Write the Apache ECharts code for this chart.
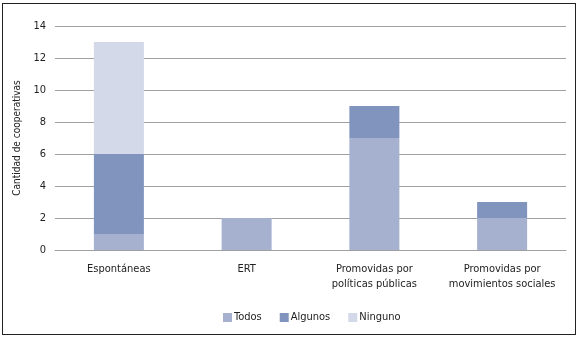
<!DOCTYPE html>
<html>
<head>
<meta charset="utf-8">
<script src="https://cdn.jsdelivr.net/npm/echarts@6/dist/echarts.min.js"></script>
<style>
  html, body { margin: 0; padding: 0; background: #fff; }
  #chart-container { position: absolute; left: 0; top: 0; width: 580px; height: 339px; }
  #frame { position: absolute; left: 2px; top: 3px; width: 572px; height: 330px; border: 1px solid #222; pointer-events: none; }
</style>
</head>
<body>
<div id="chart-container"></div>
<div id="frame"></div>
<script>
const categories = ['Espontáneas', 'ERT', 'Promovidas por\npolíticas públicas', 'Promovidas por\nmovimientos sociales'];
const todos = [1, 2, 7, 2];
const algunos = [5, 0, 2, 1];
const ninguno = [7, 0, 0, 0];
const yTicks = [0, 2, 4, 6, 8, 10, 12, 14];

const font = '"Liberation Sans Narrow", "DejaVu Sans Condensed", sans-serif';

const chartDom = document.getElementById('chart-container');
const myChart = echarts.init(chartDom);

function makeSeries(name, data, color) {
    return {
        name: name,
        type: 'bar',
        stack: 'total',
        barWidth: 50,
        data: data,
        itemStyle: {color: color},
        animation: false
    };
}

const option = {
    textStyle: {fontFamily: font},
    grid: {left: 55, right: 14, top: 26, bottom: 89},
    legend: {
        bottom: 11,
        left: 218,
        itemWidth: 9,
        itemHeight: 9,
        itemGap: 18,
        icon: 'rect',
        textStyle: {fontFamily: font, fontSize: 11, color: '#222', padding: [0, 0, 0, -3]},
        data: ['Todos', 'Algunos', 'Ninguno']
    },
    xAxis: {
        type: 'category',
        data: categories,
        axisLine: {lineStyle: {color: '#a0a0a0'}},
        axisTick: {show: false},
        axisLabel: {interval: 0, fontFamily: font, fontSize: 11, color: '#222', margin: 12, lineHeight: 15}
    },
    yAxis: {
        type: 'value',
        min: 0,
        max: 14,
        interval: 2,
        name: 'Cantidad de cooperativas',
        nameLocation: 'middle',
        nameGap: 32,
        nameTextStyle: {fontFamily: font, fontSize: 10, color: '#222'},
        axisLine: {show: false},
        axisTick: {show: false},
        axisLabel: {
            fontFamily: font, fontSize: 11, color: '#222', margin: 9,
            formatter: v => yTicks.includes(v) ? String(v) : ''
        },
        splitLine: {lineStyle: {color: '#a0a0a0'}}
    },
    series: [
        makeSeries('Todos', todos, '#a5b1cf'),
        makeSeries('Algunos', algunos, '#8094bd'),
        makeSeries('Ninguno', ninguno, '#d3d9e8')
    ]
};

myChart.setOption(option);
</script>
</body>
</html>
